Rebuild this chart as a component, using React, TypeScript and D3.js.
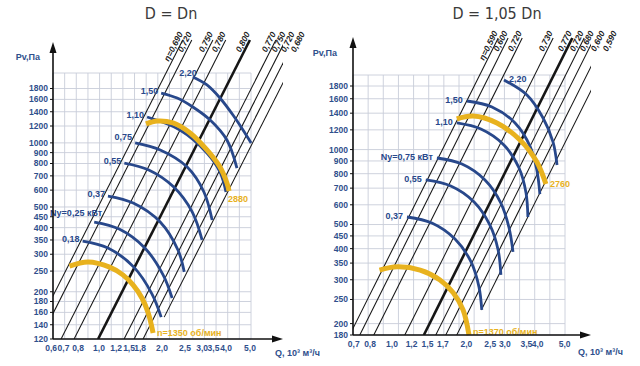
import React from 'react';
import * as d3 from 'd3';

type Pt = [number, number];

// ---------- left chart: D = Dn ----------
const leftYTicks = [120, 140, 160, 180, 200, 250, 300, 350, 400, 450, 500, 600, 700, 800, 900, 1000, 1200, 1400, 1600, 1800];
const leftXTicks = [0.6, 0.7, 0.8, 1.0, 1.2, 1.5, 1.8, 2.0, 2.5, 3.0, 3.5, 4.0, 5.0];

// efficiency lines, read as Q (10^3 m3/h) at 200 Pa and at 2000 Pa
const leftEta = [
  { eta: 'η=0,690', q200: 0.626, q2000: 1.98 },
  { eta: '0,720', q200: 0.689, q2000: 2.18 },
  { eta: '0,750', q200: 0.862, q2000: 2.73 },
  { eta: '0,780', q200: 0.99, q2000: 3.13 },
  { eta: '0,800', q200: 1.279, q2000: 4.05, best: true },
  { eta: '0,770', q200: 1.687, q2000: 5.34 },
  { eta: '0,750', q200: 1.877, q2000: 5.93 },
  { eta: '0,720', q200: 2.065, q2000: 6.53 },
  { eta: '0,680', q200: 2.298, q2000: 7.27, edge: true },
];

// power lines Ny, kW
const leftPower: { label: string; pts: Pt[] }[] = [
  { label: '2,20', pts: [[2.72, 2038], [3.16, 1870], [3.63, 1624], [4.17, 1351], [4.64, 1149], [5.06, 999]] },
  { label: '1,50', pts: [[1.94, 1714], [2.3, 1624], [2.72, 1474], [3.27, 1280], [3.91, 1031], [4.35, 762]] },
  { label: '1,10', pts: [[1.67, 1323], [2.37, 1149], [3.16, 896], [3.63, 730], [3.87, 588]] },
  { label: '0,75', pts: [[1.47, 999], [1.92, 926], [2.56, 770], [3.06, 588], [3.34, 434]] },
  { label: '0,55', pts: [[1.31, 804], [1.7, 746], [2.22, 620], [2.7, 474], [3.0, 350]] },
  { label: '0,37', pts: [[1.1, 563], [1.44, 522], [1.92, 425], [2.32, 314], [2.48, 248]] },
  { label: 'Ny=0,25 кВт', pts: [[0.95, 425], [1.24, 394], [1.63, 321], [1.98, 240], [2.18, 187]] },
  { label: '0,18', pts: [[0.84, 346], [1.1, 321], [1.45, 261], [1.76, 195], [1.94, 152]] },
];

// fan curves at two speeds
const leftSpeed: { label: string; pts: Pt[] }[] = [
  { label: 'n=1350 об/мин', pts: [[0.73, 264], [0.89, 276], [1.12, 261], [1.29, 240], [1.44, 215], [1.58, 187], [1.69, 159], [1.78, 128]] },
  { label: '2880', pts: [[1.65, 1227], [1.86, 1267], [2.2, 1240], [2.64, 1113], [3.16, 926], [3.63, 770], [3.91, 648], [4.0, 594]] },
];

// ---------- right chart: D = 1,05 Dn ----------
const rightYTicks = [180, 200, 250, 300, 350, 400, 450, 500, 600, 700, 800, 900, 1000, 1200, 1400, 1600, 1800];
const rightXTicks = [0.7, 0.8, 1.0, 1.2, 1.5, 1.7, 2.0, 2.5, 3.0, 3.5, 4.0, 5.0];

const rightEta = [
  { eta: 'η=0,590', q200: 0.711, q2000: 2.27 },
  { eta: '0,600', q200: 0.781, q2000: 2.49 },
  { eta: '0,720', q200: 0.89, q2000: 2.84 },
  { eta: '0,730', q200: 1.188, q2000: 3.79 },
  { eta: '0,770', q200: 1.419, q2000: 4.53, best: true },
  { eta: '0,720', q200: 1.586, q2000: 5.06 },
  { eta: '0,680', q200: 1.741, q2000: 5.56 },
  { eta: '0,600', q200: 1.929, q2000: 6.16 },
  { eta: '0,590', q200: 2.158, q2000: 6.89, edge: true },
];

const rightPower: { label: string; pts: Pt[] }[] = [
  { label: '2,20', pts: [[2.84, 1903], [3.52, 1656], [4.09, 1339], [4.49, 1072], [4.66, 867]] },
  { label: '1,50', pts: [[2.01, 1567], [2.54, 1483], [3.15, 1279], [3.62, 1033], [3.86, 828], [3.97, 663]] },
  { label: '1,10', pts: [[1.83, 1279], [2.29, 1209], [2.84, 1043], [3.27, 843], [3.49, 669], [3.55, 536]] },
  { label: 'Ny=0,75 кВт', pts: [[1.52, 925], [1.92, 875], [2.38, 755], [2.76, 610], [2.98, 484], [3.09, 388]] },
  { label: '0,55', pts: [[1.37, 755], [1.73, 714], [2.15, 616], [2.49, 498], [2.69, 395], [2.76, 314]] },
  { label: '0,37', pts: [[1.15, 536], [1.45, 507], [1.8, 437], [2.09, 354], [2.25, 281], [2.31, 227]] },
];

const rightSpeed: { label: string; pts: Pt[] }[] = [
  { label: 'n=1370 об/мин', pts: [[0.89, 328], [1.05, 338], [1.3, 328], [1.56, 300], [1.77, 266], [1.94, 227], [2.05, 180]] },
  { label: '2760', pts: [[1.83, 1327], [2.13, 1364], [2.66, 1279], [3.3, 1092], [3.86, 891], [4.2, 727]] },
];

// ---------- styling ----------
const BLUE = '#28488b';
const TXT = '#2f4f8c';
const YEL = '#e8b21e';
const GRID = '#c8cdd9';
const FONT = "'Liberation Sans', Arial, sans-serif";

interface Layout {
  axisX: number; axisY: number; gridRight: number; gridTop: number; gridCols: number;
  arrowTop: number; arrowRight: number; lineTop: number; edgeTop: number; labelTop: number;
  titleX: number; pvX: number; pvY: number; qX: number; qY: number;
  nudge: Record<string, [number, number, string?]>;
  tickNudge: Record<string, number>;
}

const leftLayout: Layout = {
  axisX: 53, axisY: 339, gridRight: 251, gridTop: 73, gridCols: 17,
  arrowTop: 42, arrowRight: 283, lineTop: 40, edgeTop: 68, labelTop: 35,
  titleX: 171, pvX: 40, pvY: 60, qX: 275, qY: 356,
  nudge: {
    '2,20': [4, -1], 'Ny=0,25 кВт': [8, -6], '0,75': [-3, -3],
    'n=1350 об/мин': [4, 3, 'start'], '2880': [-1, 11, 'start'],
  },
  // printed tick labels sit a little off the log positions
  tickNudge: { '0,7': -2, '1,5': -8, '1,8': -14, '2,0': -2, '3,5': -3, '4,0': -3 },
};

const rightLayout: Layout = {
  axisX: 353, axisY: 335, gridRight: 565, gridTop: 75, gridCols: 14,
  arrowTop: 37, arrowRight: 591, lineTop: 38, edgeTop: 38, labelTop: 34,
  titleX: 497, pvX: 337, pvY: 56, qX: 578, qY: 355,
  nudge: {
    '2,20': [5, 2, 'start'],
    'n=1370 об/мин': [4, 0, 'start'], '2760': [4, 3, 'start'],
  },
  tickNudge: { '0,8': 2, '1,5': -8, '1,7': -6, '3,0': -5, '4,0': -3 },
};

const comma = (v: number, d: number) => v.toFixed(d).replace('.', ',');

interface PanelProps {
  id: string; title: string; L: Layout;
  x: d3.ScaleLogarithmic<number, number>; y: d3.ScaleLogarithmic<number, number>;
  xTicks: number[]; yTicks: number[];
  eta: { eta: string; q200: number; q2000: number; best?: boolean; edge?: boolean }[];
  power: { label: string; pts: Pt[] }[];
  speed: { label: string; pts: Pt[] }[];
}

const Panel: React.FC<PanelProps> = ({ id, title, L, x, y, xTicks, yTicks, eta, power, speed }) => {
  const curve = d3.line<Pt>().x(d => x(d[0])).y(d => y(d[1])).curve(d3.curveCatmullRom.alpha(0.5));
  const vGrid = d3.range(L.gridCols + 1).map(i => L.axisX + (i * (L.gridRight - L.axisX)) / L.gridCols);
  const hGrid = [...yTicks.map(t => y(t)), L.gridTop];
  const lowest = power[power.length - 1].pts;
  const lowestEndY = y(lowest[lowest.length - 1][1]);

  const etaGeom = eta.map(l => {
    const x1 = x(l.q200), y1 = y(200), x2 = x(l.q2000), y2 = y(2000);
    const k = (x2 - x1) / (y2 - y1);
    const at = (yy: number) => x1 + k * (yy - y1);
    const yb = l.edge ? lowestEndY : L.axisY;
    const yt = l.edge ? L.edgeTop : L.lineTop;
    const len = Math.hypot(k, 1);
    const ux = -k / len, uy = -1 / len;
    const ang = (Math.atan2(uy, ux) * 180) / Math.PI;
    const lx = at(L.labelTop) + uy * 2.5, ly = L.labelTop - ux * 2.5;
    return { ...l, xb: at(yb), yb, xt: at(yt), yt, lx, ly, ang };
  });

  const lab = (name: string, px: number, py: number, def: [number, number]) => {
    const n = L.nudge[name];
    return { tx: px + (n ? n[0] : def[0]), ty: py + (n ? n[1] : def[1]), anchor: n && n[2] ? n[2] : 'end' };
  };

  return (
    <g>
      <defs>
        <clipPath id={`clip-${id}`}>
          <rect x={L.axisX} y={0} width={L.arrowRight - L.axisX} height={L.axisY} />
        </clipPath>
      </defs>
      <text x={L.titleX} y={19} textAnchor="middle" fontFamily="'DejaVu Sans Condensed','DejaVu Sans',sans-serif"
        fontStretch="condensed" fontSize={16} fill="#3a3a3a">{title}</text>

      {vGrid.map((v, i) => (
        <line key={`v${i}`} x1={v} x2={v} y1={L.gridTop} y2={L.axisY} stroke={GRID} strokeWidth={0.9} />
      ))}
      {hGrid.map((h, i) => (
        <line key={`h${i}`} x1={L.axisX} x2={L.gridRight} y1={h} y2={h} stroke={GRID} strokeWidth={0.9} />
      ))}

      <g clipPath={`url(#clip-${id})`}>
        {etaGeom.map((l, i) => (
          <line key={`e${i}`} x1={l.xb} y1={l.yb} x2={l.xt} y2={l.yt} stroke="#161616"
            strokeWidth={l.best ? 2.6 : 1.05} />
        ))}
      </g>
      {etaGeom.map((l, i) => (
        <text key={`el${i}`} transform={`translate(${l.lx},${l.ly}) rotate(${l.ang})`} textAnchor="end"
          fontFamily={FONT} fontSize={8.5} fontWeight="bold" fontStyle="italic" fill="#222">{l.eta}</text>
      ))}

      {power.map((c, i) => (
        <path key={`p${i}`} d={curve(c.pts) || ''} fill="none" stroke={BLUE} strokeWidth={2.8} />
      ))}
      {speed.map((c, i) => (
        <path key={`s${i}`} d={curve(c.pts) || ''} fill="none" stroke={YEL} strokeWidth={5} />
      ))}

      {power.map((c, i) => {
        const t = lab(c.label, x(c.pts[0][0]), y(c.pts[0][1]), id === 'L' ? [-3, 1] : [-4, 2]);
        return (
          <text key={`pl${i}`} x={t.tx} y={t.ty} textAnchor={t.anchor} fontFamily={FONT} fontSize={9}
            fontWeight="bold" fill={BLUE}>{c.label}</text>
        );
      })}
      {speed.map((c, i) => {
        const e = c.pts[c.pts.length - 1];
        const t = lab(c.label, x(e[0]), y(e[1]), [0, 0]);
        return (
          <text key={`sl${i}`} x={t.tx} y={t.ty} textAnchor={t.anchor} fontFamily={FONT} fontSize={9}
            fontWeight="bold" fill={YEL}>{c.label}</text>
        );
      })}

      {/* axes */}
      <line x1={L.axisX} x2={L.axisX} y1={L.axisY} y2={L.arrowTop + 8} stroke="#111" strokeWidth={1.6} />
      <path d={`M${L.axisX},${L.arrowTop} L${L.axisX - 3.5},${L.arrowTop + 11} L${L.axisX + 3.5},${L.arrowTop + 11} Z`} fill="#111" />
      <line x1={L.axisX} x2={L.arrowRight - 8} y1={L.axisY} y2={L.axisY} stroke="#111" strokeWidth={1.6} />
      <path d={`M${L.arrowRight},${L.axisY} L${L.arrowRight - 11},${L.axisY - 3.5} L${L.arrowRight - 11},${L.axisY + 3.5} Z`} fill="#111" />

      {yTicks.map((t, i) => (
        <g key={`yt${i}`}>
          <line x1={L.axisX - 3} x2={L.axisX} y1={y(t)} y2={y(t)} stroke="#111" strokeWidth={1} />
          <text x={L.axisX - 5} y={y(t)} dy="0.35em" textAnchor="end" fontFamily={FONT} fontSize={8.5}
            fontWeight="bold" fill={TXT}>{t}</text>
        </g>
      ))}
      {xTicks.map((t, i) => {
        const s = comma(t, 1);
        return (
          <text key={`xt${i}`} x={x(t) + (L.tickNudge[s] || 0)} y={L.axisY + 12} textAnchor="middle" fontFamily={FONT}
            fontSize={8.5} fontWeight="bold" fill={TXT}>{s}</text>
        );
      })}

      <text x={L.pvX} y={L.pvY} textAnchor="end" fontFamily={FONT} fontSize={9} fontWeight="bold" fill={TXT}>Pv,Па</text>
      <text x={L.qX} y={L.qY} fontFamily={FONT} fontSize={9} fontWeight="bold" fill={TXT}>Q, 10³ м³/ч</text>
    </g>
  );
};

const App: React.FC = () => {
  const xL = d3.scaleLog().domain([1, 5]).range([99, 250]);
  const yL = d3.scaleLog().domain([120, 1800]).range([339, 88.5]);
  const xR = d3.scaleLog().domain([1, 5]).range([392, 564.6]);
  const yR = d3.scaleLog().domain([180, 1800]).range([335, 86]);

  return (
    <svg width={640} height={366} style={{ position: 'absolute', left: 0, top: 0, background: '#fff' }}>
      <rect width={640} height={366} fill="#fff" />
      <Panel id="L" title="D = Dn" L={leftLayout} x={xL} y={yL} xTicks={leftXTicks} yTicks={leftYTicks}
        eta={leftEta} power={leftPower} speed={leftSpeed} />
      <Panel id="R" title="D = 1,05 Dn" L={rightLayout} x={xR} y={yR} xTicks={rightXTicks} yTicks={rightYTicks}
        eta={rightEta} power={rightPower} speed={rightSpeed} />
    </svg>
  );
};

export default App;
